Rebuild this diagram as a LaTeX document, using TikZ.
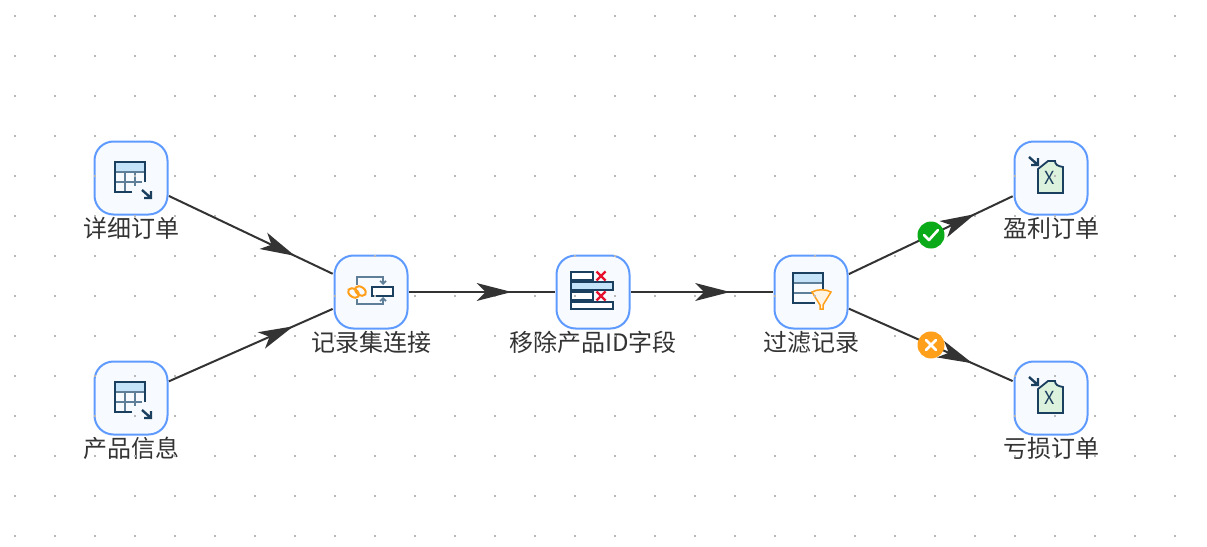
\documentclass[tikz,border=0pt]{standalone}
\usepackage{fontspec}
\setmainfont{Noto Sans CJK SC}
\usetikzlibrary{positioning,arrows.meta,decorations.markings}
\definecolor{navy}{HTML}{1B3F5F}
\definecolor{slate}{HTML}{5F7F99}
\definecolor{sky}{HTML}{C5E3F8}
\definecolor{amber}{HTML}{FF9F1A}
\definecolor{ink}{HTML}{333333}
\definecolor{edgeblue}{HTML}{5F9BFF}
\definecolor{paleblue}{HTML}{F7FAFF}
\definecolor{sheetgreen}{HTML}{DCF2DC}
\definecolor{crossred}{HTML}{E8112D}
\definecolor{okgreen}{HTML}{0AAA18}

\tikzset{
    % icons, drawn round the middle of a box
    tablein/.pic={
        \fill[sky] (-16,-16) rectangle (14,-6);
        \draw[slate, line width=1.6pt] (-16,-6) -- (14,-6) (-16,4) -- (11,4) (-6,-6) -- (-6,14) (4,-6) -- (4,8);
        \draw[navy, line width=2pt] (1,14) -- (-16,14) -- (-16,-16) -- (14,-16) -- (14,4);
        \draw[navy, line width=2.4pt] (11,12) -- (20,20) (20,13) -- (20,20) -- (13,20);
    },
    excelout/.pic={
        \draw[navy, line width=2.4pt] (-22,-21) -- (-13,-13) (-13,-20) -- (-13,-13) -- (-20,-13);
        \draw[navy, line width=1.8pt, fill=sheetgreen] (-13,-9) -- (-3,-17) -- (4,-17) .. controls (4,-13) and (7,-12) .. (12,-11) -- (12,15) -- (-13,15) -- cycle;
        \node[inner sep=0pt, text=navy, font=\fontsize{18}{18}\selectfont] at (-1,0) {X};
    }
}

\begin{document}
\begin{tikzpicture}[
    x=1pt, y=-1pt,
    node distance=40pt and 166pt,
    stepbox/.style={draw=edgeblue, fill=paleblue, line width=2pt, rounded corners=19pt, minimum size=73pt, outer sep=.5pt, inner sep=0pt},
    steplabel/.style={inner sep=0pt, text=ink, font=\fontsize{24}{24}\selectfont, text height=18pt, text depth=4pt},
    flow/.style={draw=ink, line width=2pt, shorten <=1pt, shorten >=1.5pt, postaction={decorate}, decoration={markings, mark=at position #1 with {\arrow{Stealth[length=35pt, width=18pt, inset=9pt, line width=0pt, ink]}}}},
    badge/.style={circle, minimum size=27pt, inner sep=0pt, text=white}
]
\useasboundingbox (0,0) rectangle (1207,546);

% Boxes
\node[stepbox] (order) at (131,178) {};
\node[stepbox, below=146pt of order] (product) {};
\node[stepbox, below right=of order] (join) {};
\node[stepbox, right=148pt of join] (removal) {};
\node[stepbox, right=144pt of removal] (filter) {};
\node[stepbox, above right=of filter] (profit) {};
\node[stepbox, below right=32pt and 166pt of filter] (loss) {};

% Labels
\node[steplabel, below=4pt of order] (orderlabel) {详细订单};
\node[steplabel, below=4pt of product] (productlabel) {产品信息};
\node[steplabel, below=4pt of join] (joinlabel) {记录集连接};
\node[steplabel, below=4pt of removal] (removallabel) {移除产品ID字段};
\node[steplabel, below=4pt of filter] (filterlabel) {过滤记录};
\node[steplabel, below=4pt of profit] (profitlabel) {盈利订单};
\node[steplabel, below=4pt of loss] (losslabel) {亏损订单};

% Icons
\pic at (order) {tablein};
\pic at (product) {tablein};
\pic at (profit) {excelout};
\pic at (loss) {excelout};

% Join icon
\draw[slate, line width=1.6pt, -{Straight Barb[length=3pt, width=6pt]}] ([shift={(-14,-7)}]join.center) |- ([shift={(12,-15)}]join.center) -- ([shift={(12,-7)}]join.center);
\draw[slate, line width=1.6pt, -{Straight Barb[length=3pt, width=6pt]}] ([shift={(-14,7)}]join.center) |- ([shift={(12,12)}]join.center) -- ([shift={(12,5)}]join.center);
\draw[navy, line width=2pt, fill=white] ([shift={(1,-5)}]join.center) rectangle ([shift={(22,4)}]join.center);
\draw[amber, line width=2pt] ([shift={(-17.5,1)}]join.center) ellipse[x radius=6pt, y radius=4pt, rotate=-35];
\draw[amber, line width=2pt] ([shift={(-10.5,-1)}]join.center) ellipse[x radius=6pt, y radius=4pt, rotate=-35];

% Removal icon
\draw[navy, line width=2pt, fill=white] ([shift={(-22,-20)}]removal.center) rectangle ([shift={(0,-12)}]removal.center);
\draw[navy, line width=2pt, fill=sky] ([shift={(-22,-10)}]removal.center) rectangle ([shift={(20,-2)}]removal.center);
\draw[navy, line width=2pt, fill=white] ([shift={(-22,0)}]removal.center) rectangle ([shift={(0,8)}]removal.center);
\draw[navy, line width=2pt, fill=white] ([shift={(-22,10)}]removal.center) rectangle ([shift={(20,17)}]removal.center);
\draw[crossred, line width=2.2pt] ([shift={(3.5,-20.5)}]removal.center) -- ([shift={(12.5,-11.5)}]removal.center) ([shift={(12.5,-20.5)}]removal.center) -- ([shift={(3.5,-11.5)}]removal.center);
\draw[crossred, line width=2.2pt] ([shift={(3.5,-0.5)}]removal.center) -- ([shift={(12.5,8.5)}]removal.center) ([shift={(12.5,-0.5)}]removal.center) -- ([shift={(3.5,8.5)}]removal.center);

% Filter icon
\fill[sky] ([shift={(-18,-19)}]filter.center) rectangle ([shift={(12,-9)}]filter.center);
\draw[slate, line width=1.6pt] ([shift={(-18,-9)}]filter.center) -- ([shift={(12,-9)}]filter.center) ([shift={(-18,1)}]filter.center) -- ([shift={(3,1)}]filter.center);
\draw[navy, line width=2pt] ([shift={(4,11)}]filter.center) -- ([shift={(-18,11)}]filter.center) -- ([shift={(-18,-19)}]filter.center) -- ([shift={(12,-19)}]filter.center) -- ([shift={(12,-3)}]filter.center);
\draw[amber, line width=1.5pt, fill=amber!12] ([shift={(1,0)}]filter.center) .. controls ([shift={(6,-3)}]filter.center) and ([shift={(15,-3)}]filter.center) .. ([shift={(20,0)}]filter.center) -- ([shift={(12,13)}]filter.center) -- ([shift={(12,17)}]filter.center) -- ([shift={(9,17)}]filter.center) -- ([shift={(9,13)}]filter.center) -- cycle;

% Grid of dots
\foreach \i in {0,...,29}
    \foreach \j in {0,...,13}
        \fill[black!28] (14+40*\i,15+40*\j) rectangle ++(2,2);

% Arrows
\draw[flow=.765] (order) -- (join);
\draw[flow=.755] (product) -- (join);
\draw[flow=.70] (join) -- (removal);
\draw[flow=.695] (removal) -- (filter);
\draw[flow=.765] (filter) -- node[badge, fill=okgreen] (okmark) {} (profit);
\draw[flow=.75] (filter) -- node[badge, fill=amber] (failmark) {} (loss);

% Marks on the two outputs
\draw[white, line width=2.6pt, line cap=round, line join=round] ([shift={(-7,0)}]okmark.center) -- ([shift={(-2,5)}]okmark.center) -- ([shift={(7,-5)}]okmark.center);
\draw[white, line width=2.6pt, line cap=round] ([shift={(-5,-5)}]failmark.center) -- ([shift={(5,5)}]failmark.center) ([shift={(5,-5)}]failmark.center) -- ([shift={(-5,5)}]failmark.center);
\end{tikzpicture}
\end{document}
